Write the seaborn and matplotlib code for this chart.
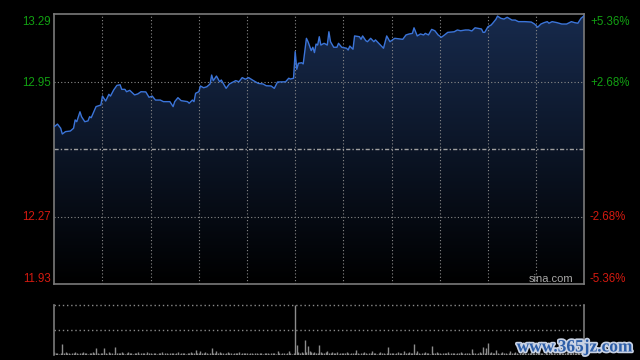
import numpy as np
import pandas as pd
import matplotlib.pyplot as plt
import matplotlib.patheffects as pe
import seaborn as sns

# Intraday price (HK session, 330 minutes)
prev_close = 12.61
price_ticks = [13.29, 12.95, 12.27, 11.93]
price_labels = ['13.29', '12.95', '12.27', '11.93']
pct_labels = ['+5.36%', '+2.68%', '-2.68%', '-5.36%']

minutes = [0, 2, 4, 5, 7, 10, 12, 13, 14, 16,
           17, 19, 21, 22, 23, 24, 26, 28, 29, 30,
           32, 34, 35, 37, 39, 41, 42, 44, 45, 47,
           50, 52, 54, 57, 59, 61, 63, 66, 68, 72,
           74, 75, 77, 79, 83, 84, 86, 87, 88, 90,
           91, 93, 95, 97, 98, 99, 101, 103, 104, 107,
           109, 113, 115, 117, 119, 121, 124, 127, 130, 132,
           135, 137, 139, 144, 146, 147, 149, 150, 151, 152,
           154, 155, 157, 158, 160, 161, 162, 163, 164, 165,
           166, 168, 170, 171, 172, 174, 176, 177, 179, 182,
           183, 184, 186, 187, 190, 191, 192, 194, 195, 197,
           199, 200, 202, 205, 207, 209, 212, 217, 219, 221,
           223, 224, 226, 228, 230, 231, 233, 235, 237, 239,
           241, 243, 245, 249, 251, 253, 256, 258, 260, 262,
           264, 266, 267, 268, 270, 272, 273, 275, 276, 278,
           280, 282, 285, 287, 289, 293, 297, 299, 301, 303,
           305, 307, 308, 310, 313, 316, 319, 322, 324, 326,
           328, 330]

prices = [12.724, 12.737, 12.716, 12.687, 12.699, 12.702, 12.716, 12.758, 12.749, 12.799,
          12.774, 12.749, 12.753, 12.774, 12.769, 12.788, 12.825, 12.830, 12.833, 12.878,
          12.853, 12.887, 12.878, 12.909, 12.932, 12.935, 12.912, 12.912, 12.900, 12.907,
          12.884, 12.889, 12.900, 12.899, 12.872, 12.878, 12.858, 12.858, 12.850, 12.850,
          12.825, 12.850, 12.870, 12.855, 12.850, 12.842, 12.858, 12.850, 12.892, 12.900,
          12.929, 12.920, 12.925, 12.939, 12.984, 12.956, 12.979, 12.950, 12.959, 12.917,
          12.939, 12.956, 12.950, 12.971, 12.963, 12.971, 12.956, 12.942, 12.939, 12.930,
          12.929, 12.917, 12.949, 12.950, 12.968, 12.964, 12.968, 13.102, 13.013, 13.043,
          13.046, 13.040, 13.169, 13.152, 13.107, 13.124, 13.097, 13.140, 13.135, 13.177,
          13.135, 13.144, 13.135, 13.202, 13.152, 13.124, 13.124, 13.144, 13.124, 13.119,
          13.110, 13.130, 13.114, 13.181, 13.177, 13.164, 13.181, 13.157, 13.152, 13.169,
          13.152, 13.161, 13.144, 13.119, 13.181, 13.152, 13.169, 13.164, 13.186, 13.191,
          13.194, 13.222, 13.181, 13.191, 13.186, 13.194, 13.186, 13.214, 13.207, 13.186,
          13.174, 13.186, 13.199, 13.202, 13.211, 13.207, 13.211, 13.211, 13.206, 13.222,
          13.219, 13.216, 13.199, 13.199, 13.227, 13.236, 13.245, 13.265, 13.281, 13.270,
          13.266, 13.275, 13.261, 13.261, 13.253, 13.253, 13.251, 13.241, 13.225, 13.241,
          13.248, 13.253, 13.245, 13.253, 13.248, 13.241, 13.241, 13.253, 13.248, 13.245,
          13.270, 13.283]

# per-minute volume (relative units, 50 = largest bar)
volumes = [3, 2, 2, 1, 2, 11, 2, 3, 2, 2, 1, 2, 2, 3, 2, 1, 2, 2, 3, 2, 2, 1, 2, 2, 3, 2, 7, 2, 1, 2,
           2, 7, 2, 1, 3, 2, 2, 1, 8, 2, 2, 2, 3, 2, 1, 2, 3, 2, 2, 1, 2, 2, 3, 1, 2, 2, 2, 1, 3, 2,
           2, 1, 2, 2, 1, 2, 2, 3, 1, 2, 2, 1, 2, 2, 2, 1, 2, 3, 1, 2, 2, 2, 1, 2, 2, 3, 2, 2, 5, 2,
           2, 4, 2, 2, 3, 2, 1, 2, 7, 2, 2, 4, 2, 3, 2, 2, 1, 2, 3, 2, 2, 1, 2, 2, 2, 3, 1, 2, 2, 2,
           2, 1, 2, 2, 1, 2, 2, 1, 2, 2, 1, 2, 2, 2, 1, 2, 2, 2, 1, 4, 2, 1, 2, 2, 1, 2, 4, 2, 1, 2,
           50, 10, 3, 2, 3, 2, 15, 3, 9, 4, 3, 2, 3, 2, 2, 10, 3, 2, 2, 3, 4, 2, 2, 3, 2, 2, 3, 1, 2, 2,
           2, 2, 3, 2, 1, 2, 2, 2, 5, 2, 1, 2, 2, 3, 2, 1, 2, 2, 4, 2, 2, 1, 2, 3, 2, 2, 1, 2, 8, 2,
           2, 2, 1, 2, 3, 2, 2, 1, 4, 2, 2, 3, 2, 2, 11, 2, 4, 2, 1, 2, 2, 3, 2, 2, 1, 9, 2, 2, 3, 2,
           2, 1, 2, 2, 2, 3, 1, 2, 2, 2, 1, 2, 2, 3, 2, 1, 2, 2, 2, 1, 6, 2, 2, 1, 2, 3, 2, 8, 2, 7,
           12, 2, 3, 2, 2, 5, 2, 1, 2, 3, 2, 2, 1, 2, 4, 2, 2, 3, 2, 1, 2, 2, 3, 2, 1, 2, 2, 3, 2, 2,
           2, 3, 6, 2, 2, 1, 3, 2, 2, 3, 2, 2, 1, 2, 3, 6, 2, 2, 2, 3, 5, 2, 2, 3, 2, 2, 3, 2, 3, 4,
           6]

df = pd.DataFrame({'minute': minutes, 'price': prices})
vol = pd.DataFrame({'minute': np.arange(len(volumes)), 'volume': volumes})

sns.set_theme(style='dark')
plt.rcParams['font.family'] = ['Liberation Sans', 'DejaVu Sans']

fig = plt.figure(figsize=(6.4, 3.6), dpi=100, facecolor='black')
ax = fig.add_axes([0.0848, 0.2103, 0.8281, 0.75])
vax = fig.add_axes([0.0848, 0.0131, 0.8281, 0.1406])

ymin, ymax = price_ticks[-1], price_ticks[0]
xmax = 330

# main price panel
ax.set_facecolor('black')
grad = np.linspace(1, 0, 256).reshape(-1, 1, 1) * np.array([0.09, 0.165, 0.30])
poly = ax.fill_between(df['minute'], df['price'], ymin, color='none', lw=0)
im = ax.imshow(grad, extent=[0, xmax, ymin, ymax], aspect='auto', origin='upper', zorder=1)
im.set_clip_path(poly.get_paths()[0], transform=ax.transData)

for m in range(30, xmax, 30):
    ax.axvline(m, color='#8a8a8a', lw=0.8, ls=(0, (1, 2)), zorder=2)
for t in price_ticks[1:3]:
    ax.axhline(t, color='#8a8a8a', lw=0.8, ls=(0, (1, 2)), zorder=2)
ax.axhline(prev_close, color='#a0a0a0', lw=1.0, ls=(0, (3, 1.5, 1, 1.5)), zorder=2)

sns.lineplot(data=df, x='minute', y='price', ax=ax, color='#3b74d8', lw=1.0, zorder=4)

ax.set_xlim(0, xmax)
ax.set_ylim(ymin, ymax)
ax.set_xticks([])
ax.set_yticks([])
ax.set_xlabel('')
ax.set_ylabel('')
for s in ax.spines.values():
    s.set_color('#7a7a7a')
    s.set_linewidth(1.2)
    s.set_visible(True)

# tick labels on both sides (baseline offsets in pixels)
dy_px = [-10.4, -4.0, -3.7, 2.0]
colors = ['#12a012', '#12a012', '#d41a10', '#d41a10']
for t, lab, pct, dy, c in zip(price_ticks, price_labels, pct_labels, dy_px, colors):
    ax.annotate(lab, xy=(0, t), xycoords=('axes fraction', 'data'),
                xytext=(-3.6 * 0.72, dy * 0.72), textcoords='offset points',
                ha='right', va='baseline', fontsize=8.3, color=c)
    ax.annotate(pct, xy=(1, t), xycoords=('axes fraction', 'data'),
                xytext=(5.7 * 0.72, dy * 0.72), textcoords='offset points',
                ha='left', va='baseline', fontsize=8.3, color=c)

fig.text(573 / 640, 1 - 282.3 / 360, 'sina.com', ha='right', va='baseline',
         fontsize=8, color='#a8a8a8')

# volume panel
vax.set_facecolor('black')
vax.vlines(vol['minute'], 0, vol['volume'], color='#8c8c8c', lw=1.0)
vmax = max(volumes)
vax.axhline(vmax, color='#8a8a8a', lw=1.0, ls=(0, (1, 2)), clip_on=False)
vax.axhline(vmax / 2, color='#8a8a8a', lw=1.0, ls=(0, (1, 2)))
vax.set_xlim(0, xmax)
vax.set_ylim(0, vmax)
vax.set_xticks([])
vax.set_yticks([])
for side, s in vax.spines.items():
    s.set_color('#7a7a7a')
    s.set_linewidth(1.2)
    s.set_visible(side in ('left', 'right'))

fig.text(516.7 / 640, 1 - 351.5 / 360, 'www.365jz.com', ha='left', va='baseline',
         fontsize=12.5, fontweight='bold', family=['Liberation Serif', 'DejaVu Serif'],
         color='#2d5ea8',
         path_effects=[pe.withStroke(linewidth=2.5, foreground='#c8d2e4')])

fig.savefig('out.png', dpi=100, facecolor='black')
